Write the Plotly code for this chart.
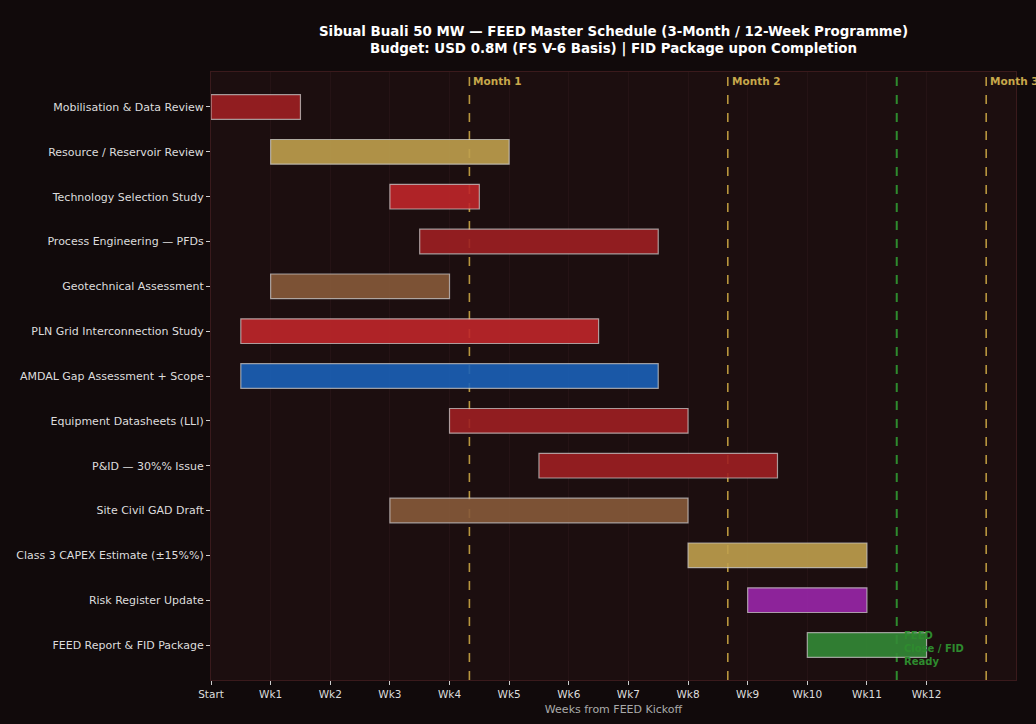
import plotly.graph_objects as go

tasks = [
    "Mobilisation & Data Review",
    "Resource / Reservoir Review",
    "Technology Selection Study",
    "Process Engineering — PFDs",
    "Geotechnical Assessment",
    "PLN Grid Interconnection Study",
    "AMDAL Gap Assessment + Scope",
    "Equipment Datasheets (LLI)",
    "P&ID — 30%% Issue",
    "Site Civil GAD Draft",
    "Class 3 CAPEX Estimate (±15%%)",
    "Risk Register Update",
    "FEED Report & FID Package",
]
starts = [0, 1, 3, 3.5, 1, 0.5, 0.5, 4, 5.5, 3, 8, 9, 10]
ends = [1.5, 5, 4.5, 7.5, 4, 6.5, 7.5, 8, 9.5, 8, 11, 11, 12]
colors = ["#9E1F22", "#BFA04E", "#BF262A", "#9E1F22", "#875A3A", "#BF262A", "#1A61B8",
          "#9E1F22", "#9E1F22", "#875A3A", "#BFA04E", "#9A26AA", "#338A36"]

week_ticks = list(range(13))
week_labels = ["Start"] + [f"Wk{i}" for i in range(1, 13)]
month_pos = [13 / 3, 26 / 3, 13]
month_labels = ["Month 1", "Month 2", "Month 3"]
feed_close = 11.5

durations = [e - s for s, e in zip(starts, ends)]

fig = go.Figure()
fig.add_trace(go.Bar(
    y=tasks, x=durations, base=starts, orientation="h",
    marker=dict(color=colors, line=dict(color="rgba(220,220,220,0.75)", width=1.2)),
    opacity=0.9, width=0.55, hoverinfo="skip", showlegend=False,
))

for xm, lab in zip(month_pos, month_labels):
    fig.add_shape(type="line", x0=xm, x1=xm, y0=0, y1=1, xref="x", yref="paper",
                  line=dict(color="#B8963E", width=1.6, dash="dash"), layer="below")
    fig.add_annotation(x=xm, y=1, xref="x", yref="paper", text=f"<b>{lab}</b>",
                       showarrow=False, xanchor="left", yanchor="top", xshift=2, yshift=-1,
                       font=dict(family="DejaVu Sans", size=10.5, color="#C8A84B"))

fig.add_shape(type="line", x0=feed_close, x1=feed_close, y0=0, y1=1, xref="x", yref="paper",
              line=dict(color="#2E8B2E", width=2, dash="dash"), layer="below")
fig.add_annotation(x=feed_close, y=tasks[-1], xref="x", yref="y",
                   text="<b>FEED<br>Close / FID<br>Ready</b>", showarrow=False,
                   xanchor="left", yanchor="middle", align="left", xshift=5, yshift=-3,
                   font=dict(family="DejaVu Sans", size=10, color="#2E8B2E"))

fig.update_layout(
    width=1036, height=724,
    paper_bgcolor="#110A0B", plot_bgcolor="#1C0E0F",
    margin=dict(l=211, r=20, t=72, b=44),
    title=dict(
        text="<b>Sibual Buali 50 MW — FEED Master Schedule (3-Month / 12-Week Programme)<br>"
             "Budget: USD 0.8M (FS V-6 Basis) | FID Package upon Completion</b>",
        x=(211 + 1016) / 2 / 1036, xanchor="center", y=1 - 36 / 724, yanchor="top",
        font=dict(family="DejaVu Sans", size=13.4, color="#FFFFFF"),
    ),
    font=dict(family="DejaVu Sans", color="#DDDDDD"),
    bargap=0.45,
)
fig.update_xaxes(
    range=[0, 13.5], tickvals=week_ticks, ticktext=week_labels,
    tickfont=dict(size=10.5, color="#DDDDDD"), ticks="outside", ticklen=4, tickcolor="#CCCCCC",
    showgrid=True, gridcolor="#251315", gridwidth=1, zeroline=False,
    showline=True, linecolor="#3A1A1C", mirror=True,
    title=dict(text="Weeks from FEED Kickoff", font=dict(size=11, color="#AAAAAA"), standoff=6),
)
fig.update_yaxes(
    categoryorder="array", categoryarray=tasks, autorange=False,
    range=[len(tasks) - 1 + 0.78, -0.78],
    tickfont=dict(size=11, color="#DDDDDD"), ticks="outside", ticklen=4, tickcolor="#CCCCCC",
    showgrid=False, zeroline=False, showline=True, linecolor="#3A1A1C", mirror=True,
)

fig.write_html("out.html")
